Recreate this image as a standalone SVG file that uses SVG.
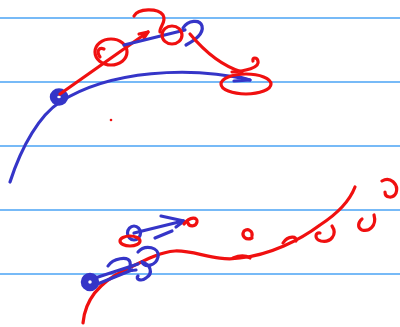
<svg xmlns="http://www.w3.org/2000/svg" width="400" height="327" viewBox="0 0 400 327">
<style>
.rule{stroke:#4aa3f5;stroke-width:1.3}
.b{fill:none;stroke:#3535c8;stroke-width:3.2;stroke-linecap:round;stroke-linejoin:round}
.r{fill:none;stroke:#f01010;stroke-width:3.2;stroke-linecap:round;stroke-linejoin:round}
.knot{fill:none;stroke:#3535c8;stroke-width:7.5}
</style>
<rect width="400" height="327" fill="#fff"/>
<g id="rules">
<line class="rule" x1="0" y1="18" x2="400" y2="18"/>
<line class="rule" x1="0" y1="82" x2="400" y2="82"/>
<line class="rule" x1="0" y1="146" x2="400" y2="146"/>
<line class="rule" x1="0" y1="210" x2="400" y2="210"/>
<line class="rule" x1="0" y1="274" x2="400" y2="274"/>
</g>
<g id="top">
<path class="b" d="M10,182 C22,145 40,115 60,102 C110,70 190,66 250,80"/>
<path class="b" d="M236,76 L250,80 L234,81" stroke-width="4"/>
<ellipse class="knot" cx="59" cy="97" rx="5.5" ry="5"/>
<path class="r" d="M60,94 L148,32"/>
<path class="r" d="M139,34 L148,32 L144,38"/>
<ellipse class="r" cx="111" cy="52" rx="16" ry="13"/>
<path class="r" d="M100,57 C96,51 99,47 104,49"/>
<path class="b" d="M124,45 L185,30"/>
<path class="b" d="M183,28 C188,20 200,19 202,26 C204,34 195,40 186,45"/>
<path class="r" d="M134,16 C138,8 158,8 163,15 C167,22 159,27 160,32"/>
<ellipse class="r" cx="172" cy="35" rx="10" ry="9"/>
<path class="r" d="M190,34 C205,52 222,66 242,72"/>
<ellipse class="r" cx="246" cy="84" rx="25" ry="10"/>
<path class="r" d="M232,72 C245,71 260,68 258,61 C257,57 252,57 253,61"/>
<circle cx="111" cy="120" r="1.3" fill="#f01010"/>
</g>
<g id="bottom">
<path class="r" d="M83,323 C85,300 100,282 125,270 C145,260 160,252 175,251 C195,250 215,262 240,258 C270,255 300,240 320,225 C340,212 350,200 355,187"/>
<path class="r" d="M233,258 C238,256 245,255 250,258"/>
<path class="r" d="M283,243 C288,235 298,236 296,241"/>
<ellipse class="knot" cx="90" cy="282" rx="5.5" ry="5.5"/>
<path class="b" d="M95,278 L138,264 M95,285 L132,270"/>
<path class="b" d="M108,266 C113,258 128,256 130,262 C132,268 124,272 136,270"/>
<path class="b" d="M138,252 C145,244 160,247 158,257 C156,266 145,268 142,262 M142,262 C150,264 154,273 146,278 C141,282 135,279 138,276"/>
<ellipse class="b" cx="134" cy="233" rx="6.5" ry="7"/>
<ellipse class="r" cx="130" cy="241" rx="10" ry="5"/>
<path class="b" d="M134,233 L183,221"/>
<path class="b" d="M161,216 L184,221 L176,227"/>
<path class="b" d="M155,238 L172,231"/>
<path class="r" d="M184,224 C190,216 198,217 197,222 C196,227 189,227 188,223"/>
<path class="r" d="M252,236 C253,231 248,228 244,231 C241,236 246,241 252,238"/>
<path class="r" d="M332,226 C338,235 330,243 321,241 C314,239 315,232 320,233"/>
<path class="r" d="M374,215 C377,226 369,232 362,230 C357,228 358,222 362,219"/>
<path class="r" d="M382,181 C390,176 399,184 396,193 C393,199 385,198 385,192"/>
</g>
</svg>
